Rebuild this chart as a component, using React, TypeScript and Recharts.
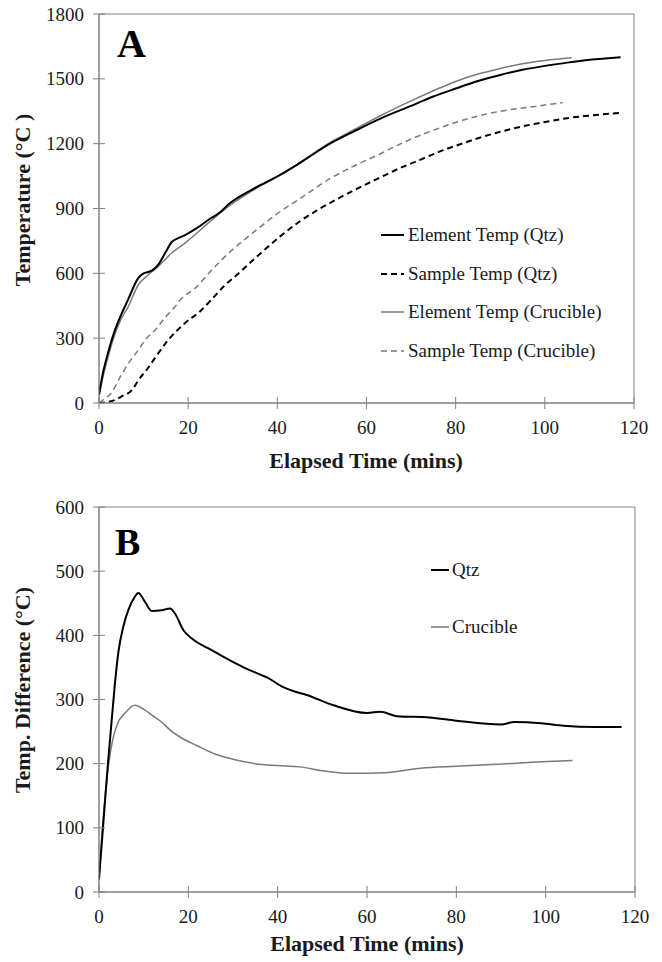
import React from "react";
import { LineChart, Line, XAxis, YAxis, ReferenceArea, Legend, Label } from "recharts";

// ---------- Panel A data ----------
const elemQtzTime = [0, 1, 2, 3.6, 5, 6.5, 8.8, 10, 11, 12, 13.2, 15, 16.3, 18, 19.3, 22, 24.5, 27, 29.4, 35, 40.6, 45, 51.8, 57, 63, 70, 75, 80, 85, 90, 95, 100, 105, 110, 117];
const elemQtzTemp = [40, 150, 230, 338, 410, 477, 578, 600, 606, 615, 638, 700, 745, 765, 777, 810, 847, 880, 925, 995, 1055, 1110, 1200, 1255, 1315, 1375, 1418, 1455, 1490, 1518, 1542, 1560, 1575, 1588, 1600];

const sampQtzTime = [0, 2, 3.6, 5, 7.4, 9, 11, 13, 15.5, 19.3, 22.7, 25.3, 28, 31.6, 35, 40.6, 45, 49.6, 54, 58.5, 63, 67.5, 72, 76, 80, 85, 90, 95, 100, 105, 110, 117];
const sampQtzTemp = [0, 5, 14, 30, 60, 110, 162, 222, 291, 370, 425, 480, 540, 605, 670, 770, 840, 900, 950, 998, 1043, 1087, 1125, 1160, 1190, 1225, 1255, 1280, 1300, 1318, 1330, 1342];

const elemCrucTime = [0, 1, 2, 3.6, 5, 6.5, 8.8, 11, 13.2, 16.3, 19.3, 24.5, 29.4, 35, 40.6, 45, 51.8, 57, 63, 70, 75, 80, 85, 90, 95, 100, 106];
const elemCrucTemp = [30, 130, 210, 320, 390, 444, 546, 592, 630, 694, 740, 832, 915, 990, 1055, 1112, 1205, 1262, 1328, 1398, 1445, 1488, 1522, 1548, 1570, 1585, 1597];

const sampCrucTime = [0, 1, 2.9, 5, 7, 8.8, 10.5, 12.6, 15, 17, 18.2, 21.5, 25.3, 29.4, 33, 36, 40.6, 45, 51.8, 57, 63, 67.5, 74.5, 80, 85, 90, 96.9, 104];
const sampCrucTemp = [0, 15, 51, 130, 195, 245, 295, 338, 400, 444, 477, 530, 615, 700, 762, 812, 885, 945, 1038, 1095, 1152, 1198, 1258, 1298, 1328, 1350, 1370, 1390];

// ---------- Panel B data ----------
const diffQtzTime = [0, 1, 2, 2.5, 3.5, 4.3, 5.5, 6.6, 8, 8.8, 10.3, 11.8, 14, 15.9, 17, 18.9, 20.8, 25.2, 29, 32.7, 36.4, 38, 41, 44, 46.5, 52.5, 60, 63, 66.7, 74, 80, 90, 93, 99, 104, 111, 117];
const diffQtzVal = [20, 110, 200, 240, 320, 372, 415, 440, 460, 466, 452, 438, 439, 442, 434, 408, 395, 377, 362, 349, 338, 333, 320, 312, 307, 291, 279, 281, 274, 272, 267, 261, 265, 263, 259, 257, 257];

const diffCrucTime = [0, 1, 2, 3, 4, 6, 8, 10, 12, 14, 16, 18.5, 22, 26, 30, 35, 40, 45, 50, 56, 64, 72, 80, 89, 99, 106];
const diffCrucVal = [20, 120, 190, 235, 260, 280, 291, 285, 275, 265, 252, 240, 228, 215, 207, 200, 197, 195, 189, 185, 186, 193, 196, 199, 203, 205];

// ---------- Ticks & labels ----------
const timeTicks = [0, 20, 40, 60, 80, 100, 120];
const tempTicks = [0, 300, 600, 900, 1200, 1500, 1800];
const diffTicks = [0, 100, 200, 300, 400, 500, 600];
const legendA = ["Element Temp (Qtz)", "Sample Temp (Qtz)", "Element Temp (Crucible)", "Sample Temp (Crucible)"];
const legendB = ["Qtz", "Crucible"];

const zip = (ts: number[], vs: number[]) => ts.map((t, i) => ({ t, v: vs[i] }));

const FONT = "'Liberation Serif', 'Times New Roman', serif";
const AXIS = "#808080";
const GRAY = "#7a7a7a";
const TXT = "#1a1a1a";

const YTick = (props: any) => {
  const { x, y, payload } = props;
  return (
    <g>
      <line x1={x - 6} x2={x + 6} y1={y} y2={y} stroke={AXIS} strokeWidth={1} />
      <text x={x - 15} y={y} dy="0.35em" textAnchor="end" fontFamily={FONT} fontSize={19} fill={TXT}>
        {payload.value}
      </text>
    </g>
  );
};

const XTick = (props: any) => {
  const { x, y, payload } = props;
  return (
    <g>
      <line x1={x} x2={x} y1={y - 6} y2={y + 6} stroke={AXIS} strokeWidth={1} />
      <text x={x} y={y + 24} dy="0.35em" textAnchor="middle" fontFamily={FONT} fontSize={19} fill={TXT}>
        {payload.value}
      </text>
    </g>
  );
};

const LegendRows = ({ items, styles, rowH, lineW, gap }: any) => (
  <div style={{ fontFamily: FONT, fontSize: 19, color: TXT }}>
    {items.map((name: string, i: number) => (
      <div key={name} style={{ height: rowH, display: "flex", alignItems: "center", whiteSpace: "nowrap" }}>
        <svg width={lineW} height={6} style={{ marginRight: gap }}>
          <line x1={0} x2={lineW} y1={3} y2={3} stroke={styles[i].stroke} strokeWidth={styles[i].w} strokeDasharray={styles[i].dash} />
        </svg>
        <span>{name}</span>
      </div>
    ))}
  </div>
);

const stylesA = [
  { stroke: "#000", w: 2, dash: undefined },
  { stroke: "#000", w: 2, dash: "6 4" },
  { stroke: GRAY, w: 1.5, dash: undefined },
  { stroke: GRAY, w: 1.5, dash: "6 4" },
];
const stylesB = [
  { stroke: "#000", w: 2, dash: undefined },
  { stroke: GRAY, w: 1.5, dash: undefined },
];

export default function App() {
  return (
    <div style={{ position: "absolute", left: 0, top: 0, width: 662, height: 962, background: "#fff" }}>
      <div style={{ position: "absolute", left: 0, top: 0 }}>
        <LineChart width={662} height={480} margin={{ top: 14, right: 28, left: 0, bottom: 0 }}>
          <XAxis
            dataKey="t"
            type="number"
            domain={[0, 120]}
            ticks={timeTicks}
            interval={0}
            height={77}
            tickSize={0}
            tickMargin={0}
            tickLine={false}
            tick={<XTick />}
            stroke={AXIS}
            allowDataOverflow
          >
            <Label
              content={() => (
                <text x={366} y={468} textAnchor="middle" fontFamily={FONT} fontWeight="bold" fontSize={22} fill={TXT}>
                  Elapsed Time (mins)
                </text>
              )}
            />
          </XAxis>
          <YAxis
            type="number"
            domain={[0, 1800]}
            ticks={tempTicks}
            interval={0}
            width={99}
            tickSize={0}
            tickMargin={0}
            tickLine={false}
            tick={<YTick />}
            stroke={AXIS}
            allowDataOverflow
          >
            <Label
              content={() => (
                <text x={30} y={200} transform="rotate(-90, 30, 200)" textAnchor="middle" fontFamily={FONT} fontWeight="bold" fontSize={22} fill={TXT}>
                  Temperature (°C )
                </text>
              )}
            />
          </YAxis>
          <ReferenceArea x1={0} x2={120} y1={0} y2={1800} fill="none" stroke={AXIS} strokeWidth={1} />
          <Line data={zip(sampCrucTime, sampCrucTemp)} dataKey="v" stroke={GRAY} strokeWidth={1.5} strokeDasharray="6 4" dot={false} type="monotone" isAnimationActive={false} />
          <Line data={zip(elemCrucTime, elemCrucTemp)} dataKey="v" stroke={GRAY} strokeWidth={1.5} dot={false} type="monotone" isAnimationActive={false} />
          <Line data={zip(sampQtzTime, sampQtzTemp)} dataKey="v" stroke="#000" strokeWidth={2} strokeDasharray="6 4" dot={false} type="monotone" isAnimationActive={false} />
          <Line data={zip(elemQtzTime, elemQtzTemp)} dataKey="v" stroke="#000" strokeWidth={2} dot={false} type="monotone" isAnimationActive={false} />
          <Legend
            layout="vertical"
            align="center"
            verticalAlign="middle"
            wrapperStyle={{ left: 381, top: 216, width: 260 }}
            content={() => <LegendRows items={legendA} styles={stylesA} rowH={38.5} lineW={23} gap={4} />}
          />
          <text x={117} y={57} fontFamily={FONT} fontWeight="bold" fontSize={40} fill="#000">A</text>
        </LineChart>
      </div>
      <div style={{ position: "absolute", left: 0, top: 480 }}>
        <LineChart width={662} height={482} margin={{ top: 27, right: 27, left: 0, bottom: 0 }}>
          <XAxis
            dataKey="t"
            type="number"
            domain={[0, 120]}
            ticks={timeTicks}
            interval={0}
            height={70}
            tickSize={0}
            tickMargin={0}
            tickLine={false}
            tick={<XTick />}
            stroke={AXIS}
            allowDataOverflow
          >
            <Label
              content={() => (
                <text x={367} y={471} textAnchor="middle" fontFamily={FONT} fontWeight="bold" fontSize={22} fill={TXT}>
                  Elapsed Time (mins)
                </text>
              )}
            />
          </XAxis>
          <YAxis
            type="number"
            domain={[0, 600]}
            ticks={diffTicks}
            interval={0}
            width={99}
            tickSize={0}
            tickMargin={0}
            tickLine={false}
            tick={<YTick />}
            stroke={AXIS}
            allowDataOverflow
          >
            <Label
              content={() => (
                <text x={30} y={210} transform="rotate(-90, 30, 210)" textAnchor="middle" fontFamily={FONT} fontWeight="bold" fontSize={22} fill={TXT}>
                  Temp. Difference (°C)
                </text>
              )}
            />
          </YAxis>
          <ReferenceArea x1={0} x2={120} y1={0} y2={600} fill="none" stroke={AXIS} strokeWidth={1} />
          <Line data={zip(diffCrucTime, diffCrucVal)} dataKey="v" stroke={GRAY} strokeWidth={1.5} dot={false} type="monotone" isAnimationActive={false} />
          <Line data={zip(diffQtzTime, diffQtzVal)} dataKey="v" stroke="#000" strokeWidth={2} dot={false} type="monotone" isAnimationActive={false} />
          <Legend
            layout="vertical"
            align="center"
            verticalAlign="middle"
            wrapperStyle={{ left: 431, top: 61.5, width: 160 }}
            content={() => <LegendRows items={legendB} styles={stylesB} rowH={57} lineW={18} gap={3} />}
          />
          <text x={115} y={555 - 480} fontFamily={FONT} fontWeight="bold" fontSize={38} fill="#000">B</text>
        </LineChart>
      </div>
    </div>
  );
}
